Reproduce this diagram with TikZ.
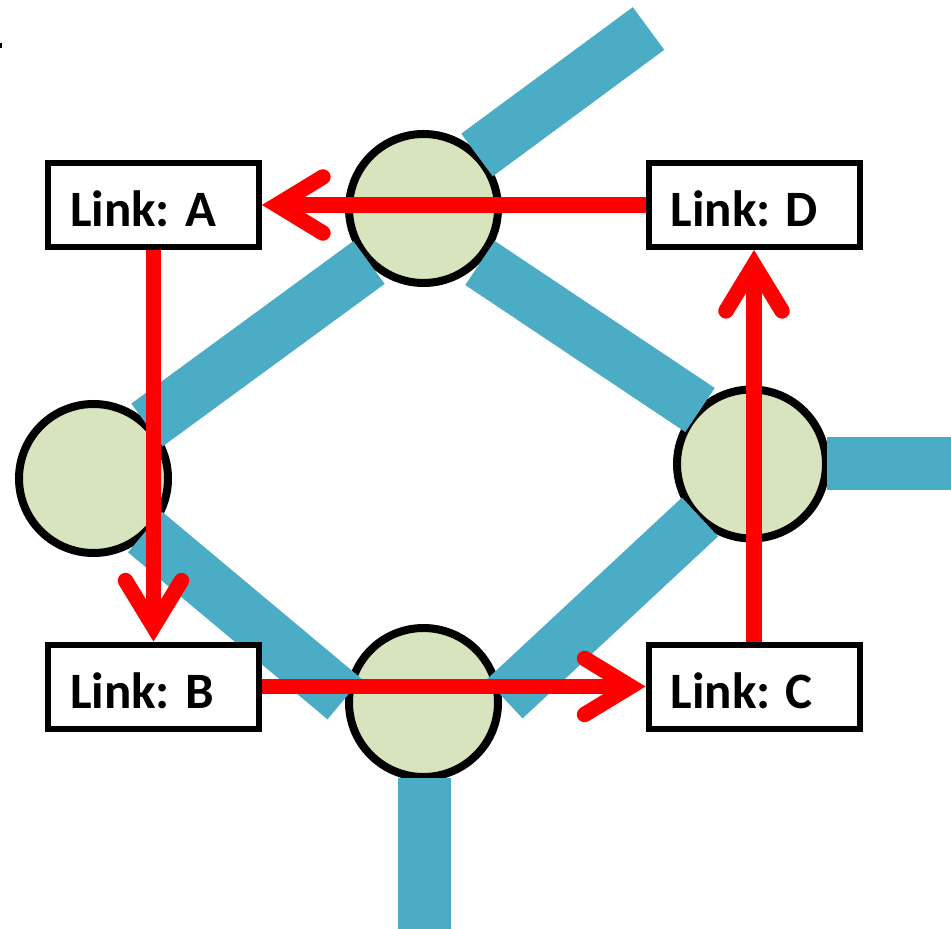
\documentclass[tikz,border=0pt]{standalone}
\usepackage{fontspec}
\setmainfont{Carlito}
\usetikzlibrary{arrows.meta}
\definecolor{barblue}{RGB}{75,172,198}
\definecolor{nodegreen}{RGB}{215,228,189}
\definecolor{linkred}{RGB}{255,0,0}
\newcommand{\linklabel}[1]{\makebox[105.5pt][l]{\hspace{11pt}#1}}
\begin{document}
\begin{tikzpicture}[x=0.5pt,y=-0.5pt,
  router/.style={circle,draw=black,line width=4pt,fill=nodegreen,minimum size=74.5pt,inner sep=0pt},
  linkbox/.style={draw=black,line width=3pt,fill=white,minimum width=105.5pt,minimum height=42pt,inner sep=0pt,text height=22pt,text depth=0pt,font=\fontsize{25.5}{30}\selectfont\bfseries},
  wire/.style={barblue,line width=26.5pt,line cap=butt},
  hop/.style={linkred,line width=7.75pt,-{Straight Barb[length=23pt,width=28pt,line cap=round,line join=miter]}}
]
\useasboundingbox (0,0) rectangle (951,929);
\fill (0,43) rectangle (2,48);

% routers
\node[router] (top)    at (423.5,208.5) {};
\node[router] (left)   at (93.5,478.5) {};
\node[router] (right)  at (751.5,464) {};
\node[router] (bottom) at (423.5,702.5) {};

% wire end points
\coordinate (ur1) at (477,155);   \coordinate (ur2) at (648.5,28.5);
\coordinate (tl1) at (369,262.5); \coordinate (tl2) at (147,425);
\coordinate (tr1) at (480,263);   \coordinate (tr2) at (700,410);
\coordinate (lb1) at (145,532);   \coordinate (lb2) at (344.5,699);
\coordinate (br1) at (504.5,699); \coordinate (br2) at (700,517);
\coordinate (re1) at (827,463.5); \coordinate (re2) at (951,463.5);
\coordinate (be1) at (424,778);   \coordinate (be2) at (424,929);

% wires
\draw[wire] (ur1) -- (ur2);
\draw[wire] (tl1) -- (tl2);
\draw[wire] (tr1) -- (tr2);
\draw[wire] (lb1) -- (lb2);
\draw[wire] (br1) -- (br2);
\draw[wire] (re1) -- (re2);
\draw[wire] (be1) -- (be2);

% links
\node[linkbox] (A) at (153.5,205)   {\linklabel{Link: A}};
\node[linkbox] (D) at (754,205)     {\linklabel{Link: D}};
\node[linkbox] (B) at (153.5,686.5) {\linklabel{Link: B}};
\node[linkbox] (C) at (754,686.5)   {\linklabel{Link: C}};

% hops
\draw[hop] (D.west) -- (A.east);
\draw[hop] (A.south) -- (B.north);
\draw[hop] (B.east) -- (C.west);
\draw[hop] (C.north) -- (D.south);
\end{tikzpicture}
\end{document}
